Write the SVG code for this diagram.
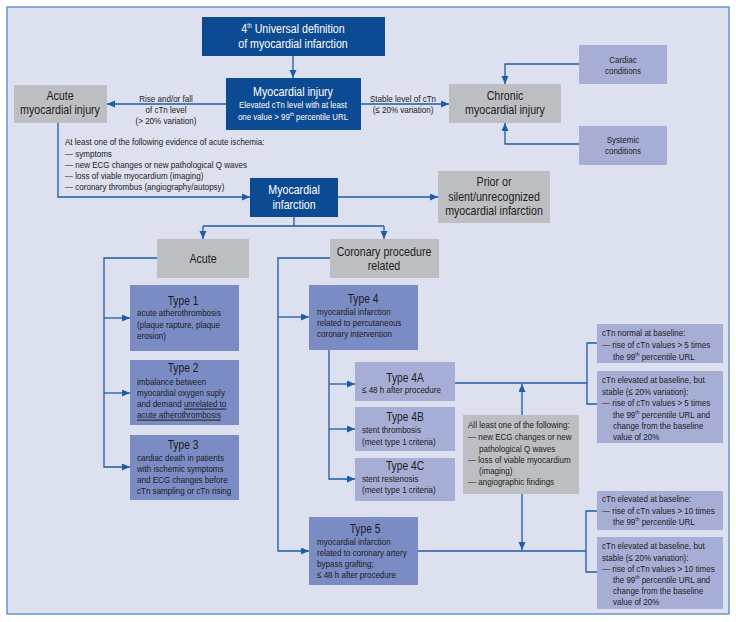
<svg xmlns="http://www.w3.org/2000/svg" width="736" height="622" viewBox="0 0 736 622">
<style>
text{font-family:"Liberation Sans",Arial,sans-serif;fill:#1c1c1c;font-size:9.8px}
.w{fill:#ffffff}
.c{text-anchor:middle}
.h1{font-size:13px}
.h2{font-size:12.5px}
.m{font-size:9.6px}
.dark{fill:#0d4a94}
.gray{fill:#bdbec1}
.med{fill:#7b8bc4}
.light{fill:#a6aed6}
.ln{fill:none;stroke:#1f5ba8;stroke-width:1.3}
.ar{marker-end:url(#ah)}
</style>
<defs>
<marker id="ah" markerUnits="userSpaceOnUse" markerWidth="9" markerHeight="8" refX="8" refY="3.5" orient="auto">
<path d="M0,0 L8,3.5 L0,7 z" fill="#1f5ba8"/>
</marker>
</defs>
<rect x="7" y="7" width="722" height="607" fill="#dde0ee" stroke="#5288c8" stroke-width="1.3"/>

<g id="connectors">
<path class="ln ar" d="M293,56 V78"/>
<path class="ln ar" d="M226,104 H107"/>
<path class="ln ar" d="M361,104 H449"/>
<path class="ln ar" d="M579,64 H505 V84"/>
<path class="ln ar" d="M579,144 H505 V123"/>
<path class="ln ar" d="M58,123 V197 H250"/>
<path class="ln ar" d="M338,197 H438"/>
<path class="ln" d="M294,217 V226 M203,226 H384"/>
<path class="ln ar" d="M203,226 V239"/>
<path class="ln ar" d="M384,226 V239"/>
<path class="ln ar" d="M157,258 H104 V467 H130"/>
<path class="ln ar" d="M104,318 H130"/>
<path class="ln ar" d="M104,393 H130"/>
<path class="ln ar" d="M330,258 H278 V551 H309"/>
<path class="ln ar" d="M278,317 H309"/>
<path class="ln ar" d="M329,350 V479 H355"/>
<path class="ln ar" d="M329,384 H355"/>
<path class="ln ar" d="M329,429 H355"/>
<path class="ln" d="M455,383 H587 M597,343 H587 V404 H597"/>
<path class="ln ar" d="M522,415 V384"/>
<path class="ln ar" d="M522,494 V550"/>
<path class="ln" d="M418,551 H586 M597,511 H586 V572 H597"/>
<text class="c" transform="matrix(.82 0 0 1 166 0)"><tspan x="0" y="102">Rise and/or fall</tspan><tspan x="0" y="113">of cTn level</tspan><tspan x="0" y="124">(&gt; 20% variation)</tspan></text>
<text class="c" transform="matrix(.82 0 0 1 403 0)"><tspan x="0" y="102">Stable level of cTn</tspan><tspan x="0" y="113">(≤ 20% variation)</tspan></text>
<text transform="matrix(.82 0 0 1 65 0)"><tspan x="0" y="145">At least one of the following evidence of acute ischemia:</tspan><tspan x="0" y="157">— symptoms</tspan><tspan x="0" y="168">— new ECG changes or new pathological Q waves</tspan><tspan x="0" y="179">— loss of viable myocardium (imaging)</tspan><tspan x="0" y="190">— coronary thrombus (angiography/autopsy)</tspan></text>
</g>

<g id="universal">
<rect class="dark" x="202" y="17" width="183" height="39"/>
<text class="h1 c w" transform="matrix(.82 0 0 1 293 0)"><tspan x="0" y="33">4<tspan font-size="6.5" dy="-5">th</tspan><tspan dy="5"> Universal definition</tspan></tspan><tspan x="0" y="48">of myocardial infarction</tspan></text>
</g>

<g id="myo-injury">
<rect class="dark" x="226" y="78" width="135" height="52"/>
<text class="h1 c w" transform="matrix(.82 0 0 1 293 0)" y="96">Myocardial injury</text>
<text class="m c w" transform="matrix(.82 0 0 1 293 0)"><tspan x="0" y="108.5">Elevated cTn level with at least</tspan><tspan x="0" y="120">one value &gt; 99<tspan font-size="6" dy="-4">th</tspan><tspan dy="4"> percentile URL</tspan></tspan></text>
</g>

<g id="acute-injury">
<rect class="gray" x="14" y="85" width="93" height="38"/>
<text class="h1 c" transform="matrix(.82 0 0 1 60 0)"><tspan x="0" y="100">Acute</tspan><tspan x="0" y="114">myocardial injury</tspan></text>
</g>

<g id="chronic-injury">
<rect class="gray" x="449" y="84" width="112" height="39"/>
<text class="h1 c" transform="matrix(.82 0 0 1 505 0)"><tspan x="0" y="100">Chronic</tspan><tspan x="0" y="114">myocardial injury</tspan></text>
</g>

<g id="cardiac">
<rect class="light" x="579" y="45" width="88" height="39"/>
<text class="c" transform="matrix(.82 0 0 1 623 0)"><tspan x="0" y="63">Cardiac</tspan><tspan x="0" y="74">conditions</tspan></text>
</g>

<g id="systemic">
<rect class="light" x="579" y="126" width="88" height="39"/>
<text class="c" transform="matrix(.82 0 0 1 623 0)"><tspan x="0" y="143">Systemic</tspan><tspan x="0" y="154">conditions</tspan></text>
</g>

<g id="mi">
<rect class="dark" x="250" y="178" width="88" height="39"/>
<text class="h1 c w" transform="matrix(.82 0 0 1 294 0)"><tspan x="0" y="194">Myocardial</tspan><tspan x="0" y="209">infarction</tspan></text>
</g>

<g id="prior">
<rect class="gray" x="438" y="171" width="112" height="52"/>
<text class="h1 c" transform="matrix(.82 0 0 1 494 0)"><tspan x="0" y="186">Prior or</tspan><tspan x="0" y="201">silent/unrecognized</tspan><tspan x="0" y="215">myocardial infarction</tspan></text>
</g>

<g id="acute">
<rect class="gray" x="157" y="239" width="92" height="39"/>
<text class="h1 c" transform="matrix(.82 0 0 1 203 0)" y="263">Acute</text>
</g>

<g id="coronary">
<rect class="gray" x="330" y="239" width="109" height="39"/>
<text class="h1 c" transform="matrix(.82 0 0 1 384 0)"><tspan x="0" y="256">Coronary procedure</tspan><tspan x="0" y="270">related</tspan></text>
</g>

<g id="type1">
<rect class="med" x="130" y="285" width="109" height="66"/>
<text class="h2 c" transform="matrix(.82 0 0 1 183 0)" y="305">Type 1</text>
<text transform="matrix(.82 0 0 1 137 0)"><tspan x="0" y="316.5">acute atherothrombosis</tspan><tspan x="0" y="328">(plaque rapture, plaque</tspan><tspan x="0" y="339.5">erosion)</tspan></text>
</g>

<g id="type2">
<rect class="med" x="130" y="360" width="109" height="65"/>
<text class="h2 c" transform="matrix(.82 0 0 1 183 0)" y="372">Type 2</text>
<text transform="matrix(.82 0 0 1 137 0)"><tspan x="0" y="385">imbalance between</tspan><tspan x="0" y="396.5">myocardial oxygen suply</tspan><tspan x="0" y="407.5">and demand <tspan text-decoration="underline">unrelated to</tspan></tspan><tspan x="0" y="418.5" text-decoration="underline">acute atherothrombosis</tspan></text>
</g>

<g id="type3">
<rect class="med" x="130" y="435" width="109" height="65"/>
<text class="h2 c" transform="matrix(.82 0 0 1 183 0)" y="449">Type 3</text>
<text transform="matrix(.82 0 0 1 137 0)"><tspan x="0" y="461">cardiac death in patients</tspan><tspan x="0" y="472.5">with ischemic symptoms</tspan><tspan x="0" y="483.5">and ECG changes before</tspan><tspan x="0" y="494.5">cTn sampling or cTn rising</tspan></text>
</g>

<g id="type4">
<rect class="med" x="309" y="285" width="109" height="65"/>
<text class="h2 c" transform="matrix(.82 0 0 1 363 0)" y="303">Type 4</text>
<text transform="matrix(.82 0 0 1 317 0)"><tspan x="0" y="315">myocardial infarction</tspan><tspan x="0" y="326">related to percutaneous</tspan><tspan x="0" y="337">coronary intervention</tspan></text>
</g>

<g id="type4a">
<rect class="light" x="355" y="362" width="100" height="39"/>
<text class="h2 c" transform="matrix(.82 0 0 1 405 0)" y="382">Type 4A</text>
<text transform="matrix(.82 0 0 1 362 0)" y="393">≤ 48 h after procedure</text>
</g>

<g id="type4b">
<rect class="light" x="355" y="407" width="100" height="44"/>
<text class="h2 c" transform="matrix(.82 0 0 1 405 0)" y="421">Type 4B</text>
<text transform="matrix(.82 0 0 1 362 0)"><tspan x="0" y="433">stent thrombosis</tspan><tspan x="0" y="445">(meet type 1 criteria)</tspan></text>
</g>

<g id="type4c">
<rect class="light" x="355" y="458" width="100" height="43"/>
<text class="h2 c" transform="matrix(.82 0 0 1 405 0)" y="470">Type 4C</text>
<text transform="matrix(.82 0 0 1 362 0)"><tspan x="0" y="482">stent restenosis</tspan><tspan x="0" y="493">(meet type 1 criteria)</tspan></text>
</g>

<g id="criteria">
<rect class="gray" x="463" y="415" width="116" height="79"/>
<text transform="matrix(.82 0 0 1 468 0)"><tspan x="0" y="428">All least one of the following:</tspan><tspan x="0" y="440">— new ECG changes or new</tspan><tspan x="13.4" y="452">pathological Q waves</tspan><tspan x="0" y="463">— loss of viable myocardium</tspan><tspan x="13.4" y="474">(imaging)</tspan><tspan x="0" y="485">— angiographic findings</tspan></text>
</g>

<g id="type5">
<rect class="med" x="309" y="517" width="109" height="68"/>
<text class="h2 c" transform="matrix(.82 0 0 1 365 0)" y="533">Type 5</text>
<text transform="matrix(.82 0 0 1 317 0)"><tspan x="0" y="545">myocardial infarction</tspan><tspan x="0" y="556">related to coronary artery</tspan><tspan x="0" y="567">bypass grafting;</tspan><tspan x="0" y="578">≤ 48 h after procedure</tspan></text>
</g>

<g id="crit4a-normal">
<rect class="light" x="597" y="324" width="126" height="39"/>
<text transform="matrix(.82 0 0 1 602 0)"><tspan x="0" y="336">cTn normal at baseline:</tspan><tspan x="0" y="348">— rise of cTn values &gt; 5 times</tspan><tspan x="13.4" y="360">the 99<tspan font-size="6" dy="-3.5">th</tspan><tspan dy="3.5"> percentile URL</tspan></tspan></text>
</g>

<g id="crit4a-elevated">
<rect class="light" x="597" y="371" width="126" height="72"/>
<text transform="matrix(.82 0 0 1 602 0)"><tspan x="0" y="383">cTn elevated at baseline, but</tspan><tspan x="0" y="395">stable (≤ 20% variation):</tspan><tspan x="0" y="406">— rise of cTn values &gt; 5 times</tspan><tspan x="13.4" y="418">the 99<tspan font-size="6" dy="-3.5">th</tspan><tspan dy="3.5"> percentile URL and</tspan></tspan><tspan x="13.4" y="429">change from the baseline</tspan><tspan x="13.4" y="440">value of 20%</tspan></text>
</g>

<g id="crit5-elevated">
<rect class="light" x="597" y="491" width="126" height="39"/>
<text transform="matrix(.82 0 0 1 602 0)"><tspan x="0" y="502">cTn elevated at baseline:</tspan><tspan x="0" y="514">— rise of cTn values &gt; 10 times</tspan><tspan x="13.4" y="525">the 99<tspan font-size="6" dy="-3.5">th</tspan><tspan dy="3.5"> percentile URL</tspan></tspan></text>
</g>

<g id="crit5-stable">
<rect class="light" x="597" y="537" width="126" height="72"/>
<text transform="matrix(.82 0 0 1 602 0)"><tspan x="0" y="549">cTn elevated at baseline, but</tspan><tspan x="0" y="561">stable (≤ 20% variation):</tspan><tspan x="0" y="572">— rise of cTn values &gt; 10 times</tspan><tspan x="13.4" y="583">the 99<tspan font-size="6" dy="-3.5">th</tspan><tspan dy="3.5"> percentile URL and</tspan></tspan><tspan x="13.4" y="594">change from the baseline</tspan><tspan x="13.4" y="605">value of 20%</tspan></text>
</g>
</svg>
